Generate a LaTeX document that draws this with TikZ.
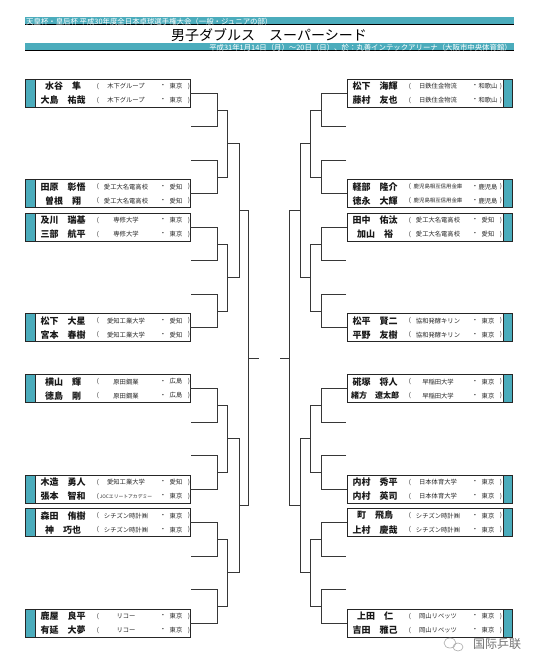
\documentclass[tikz,border=0pt]{standalone}
\usepackage{fontspec}
\setmainfont{Noto Sans CJK JP}
\newfontfamily\scfont{Noto Sans CJK SC}
\usetikzlibrary{calc}
\definecolor{tealbar}{RGB}{75,172,188}
\definecolor{lined}{RGB}{55,55,55}
\newcommand\jocfont{\fontsize{4.8}{5}\selectfont}
\newcommand\smallaff{\fontsize{5.4}{6}\selectfont}
\newcommand\longname{\fontsize{8}{9}\selectfont}
\tikzset{
  teambox/.style={draw=black!85, line width=0.9pt, minimum width=165pt, minimum height=28pt, inner sep=0pt},
  boxline/.style={draw=black!85, line width=0.7pt},
  namet/.style={font=\fontsize{9}{10}\selectfont\bfseries, inner sep=0pt, text=black!90},
  afft/.style={font=\fontsize{6.3}{7}\selectfont, inner sep=0pt, text=black!85},
  bline/.style={draw=lined, line width=0.8pt},
  hdtext/.style={text=white, font=\fontsize{7.4}{8}\selectfont, inner sep=0pt},
}
\newcommand\teamrow[6]{%
  \node[namet] (#1n) at ({#2+28},{#3}) {#4};
  \node[afft] (#1o) at ({#2+63},{#3}) {(};
  \node[afft] (#1a) at ({#2+91},{#3}) {#5};
  \node[afft] (#1d) at ({#2+128},{#3}) {・};
  \node[afft] (#1p) at ({#2+141},{#3}) {#6};
  \node[afft] (#1c) at ({#2+154},{#3}) {)};
}
\newcommand\teamL[8]{%
  \fill[tealbar] (25,{#2-14}) rectangle (35,{#2+14});
  \node[teambox] (#1) at (107.5,#2) {};
  \draw[boxline] (35,{#2-14}) -- (35,{#2+14});
  \teamrow{#1a}{35}{#2-7}{#3}{#4}{#5}
  \teamrow{#1b}{35}{#2+7}{#6}{#7}{#8}
}
\newcommand\teamR[8]{%
  \fill[tealbar] (503,{#2-14}) rectangle (513,{#2+14});
  \node[teambox] (#1) at (430,#2) {};
  \draw[boxline] (503,{#2-14}) -- (503,{#2+14});
  \teamrow{#1a}{347}{#2-7}{#3}{#4}{#5}
  \teamrow{#1b}{347}{#2+7}{#6}{#7}{#8}
}
\begin{document}
\begin{tikzpicture}[x=1pt,y=-1pt]
\useasboundingbox (0,0) rectangle (540,668);
\fill[white] (0,0) rectangle (540,668);

% header
\fill[tealbar] (25,17.5) rectangle (514,24.5);
\draw[black, line width=1pt] (25,24.8) -- (514,24.8);
\node[hdtext, anchor=west] (hd1) at (26,21.2) {天皇杯・皇后杯 平成30年度全日本卓球選手権大会（一般・ジュニアの部）};
\node[font=\fontsize{14}{16}\selectfont, inner sep=0pt] (title) at (269,35) {男子ダブルス　スーパーシード};
\fill[tealbar] (25,43.5) rectangle (514,50.5);
\draw[black, line width=1pt] (25,50.8) -- (514,50.8);
\node[hdtext, anchor=east] (hd2) at (512,47.2) {平成31年1月14日（月）～20日（日）、於：丸善インテックアリーナ（大阪市中央体育館）};

% left teams
\teamL{L1}{93.3}{水谷　隼}{木下グループ}{東京}{大島　祐哉}{木下グループ}{東京}
\teamL{L2}{193.8}{田原　彰悟}{愛工大名電高校}{愛知}{曽根　翔}{愛工大名電高校}{愛知}
\teamL{L3}{227.3}{及川　瑞基}{専修大学}{東京}{三部　航平}{専修大学}{東京}
\teamL{L4}{327.8}{松下　大星}{愛知工業大学}{愛知}{宮本　春樹}{愛知工業大学}{愛知}
\teamL{L5}{388.6}{横山　輝}{原田鋼業}{広島}{徳島　剛}{原田鋼業}{広島}
\teamL{L6}{489.1}{木造　勇人}{愛知工業大学}{愛知}{張本　智和}{\jocfont JOCエリートアカデミー}{東京}
\teamL{L7}{522.6}{森田　侑樹}{シチズン時計㈱}{東京}{神　巧也}{シチズン時計㈱}{東京}
\teamL{L8}{623.1}{鹿屋　良平}{リコー}{東京}{有延　大夢}{リコー}{東京}

% right teams
\teamR{R1}{93.3}{松下　海輝}{日鉄住金物流}{和歌山}{藤村　友也}{日鉄住金物流}{和歌山}
\teamR{R2}{193.8}{軽部　隆介}{\smallaff 鹿児島相互信用金庫}{鹿児島}{徳永　大輝}{\smallaff 鹿児島相互信用金庫}{鹿児島}
\teamR{R3}{227.3}{田中　佑汰}{愛工大名電高校}{愛知}{加山　裕}{愛工大名電高校}{愛知}
\teamR{R4}{327.8}{松平　賢二}{協和発酵キリン}{東京}{平野　友樹}{協和発酵キリン}{東京}
\teamR{R5}{388.6}{硴塚　将人}{早稲田大学}{東京}{\longname 緒方　遼太郎}{早稲田大学}{東京}
\teamR{R6}{489.1}{内村　秀平}{日本体育大学}{東京}{内村　英司}{日本体育大学}{東京}
\teamR{R7}{522.6}{町　飛鳥}{シチズン時計㈱}{東京}{上村　慶哉}{シチズン時計㈱}{東京}
\teamR{R8}{623.1}{上田　仁}{岡山リベッツ}{東京}{吉田　雅己}{岡山リベッツ}{東京}

% slot coordinates
\coordinate (Ls1) at (L1.east);  \coordinate (Ls4) at (L2.east);
\coordinate (Ls5) at (L3.east);  \coordinate (Ls8) at (L4.east);
\coordinate (Ls9) at (L5.east);  \coordinate (Ls12) at (L6.east);
\coordinate (Ls13) at (L7.east); \coordinate (Ls16) at (L8.east);
\coordinate (Rs1) at (R1.west);  \coordinate (Rs4) at (R2.west);
\coordinate (Rs5) at (R3.west);  \coordinate (Rs8) at (R4.west);
\coordinate (Rs9) at (R5.west);  \coordinate (Rs12) at (R6.west);
\coordinate (Rs13) at (R7.west); \coordinate (Rs16) at (R8.west);
\coordinate (Ls2) at (191,126.8);  \coordinate (Ls3) at (191,160.3);
\coordinate (Ls6) at (191,260.8);  \coordinate (Ls7) at (191,294.3);
\coordinate (Ls10) at (191,422.1); \coordinate (Ls11) at (191,455.6);
\coordinate (Ls14) at (191,556.1); \coordinate (Ls15) at (191,589.6);
\coordinate (Rs2) at (346,126.8);  \coordinate (Rs3) at (346,160.3);
\coordinate (Rs6) at (346,260.8);  \coordinate (Rs7) at (346,294.3);
\coordinate (Rs10) at (346,422.1); \coordinate (Rs11) at (346,455.6);
\coordinate (Rs14) at (346,556.1); \coordinate (Rs15) at (346,589.6);

\coordinate (LX1) at (217,0); \coordinate (LX2) at (227.5,0);
\coordinate (LX3) at (239,0); \coordinate (LX4) at (248.5,0);
\coordinate (RX1) at (321,0); \coordinate (RX2) at (310.5,0);
\coordinate (RX3) at (300,0); \coordinate (RX4) at (289.5,0);

% round 1
\foreach \i in {1,...,8} {
  \pgfmathtruncatemacro\ia{2*\i-1}
  \pgfmathtruncatemacro\ib{2*\i}
  \draw[bline] (Ls\ia) -- (Ls\ia -| LX1) -- (Ls\ib -| LX1) -- (Ls\ib);
  \coordinate (Lm\i) at ($(Ls\ia -| LX1)!0.5!(Ls\ib -| LX1)$);
  \draw[bline] (Rs\ia) -- (Rs\ia -| RX1) -- (Rs\ib -| RX1) -- (Rs\ib);
  \coordinate (Rm\i) at ($(Rs\ia -| RX1)!0.5!(Rs\ib -| RX1)$);
}
% round 2
\foreach \i in {1,...,4} {
  \pgfmathtruncatemacro\ia{2*\i-1}
  \pgfmathtruncatemacro\ib{2*\i}
  \draw[bline] (Lm\ia) -- (Lm\ia -| LX2) -- (Lm\ib -| LX2) -- (Lm\ib);
  \coordinate (Ln\i) at ($(Lm\ia -| LX2)!0.5!(Lm\ib -| LX2)$);
  \draw[bline] (Rm\ia) -- (Rm\ia -| RX2) -- (Rm\ib -| RX2) -- (Rm\ib);
  \coordinate (Rn\i) at ($(Rm\ia -| RX2)!0.5!(Rm\ib -| RX2)$);
}
% round 3
\foreach \i in {1,2} {
  \pgfmathtruncatemacro\ia{2*\i-1}
  \pgfmathtruncatemacro\ib{2*\i}
  \draw[bline] (Ln\ia) -- (Ln\ia -| LX3) -- (Ln\ib -| LX3) -- (Ln\ib);
  \coordinate (Lq\i) at ($(Ln\ia -| LX3)!0.5!(Ln\ib -| LX3)$);
  \draw[bline] (Rn\ia) -- (Rn\ia -| RX3) -- (Rn\ib -| RX3) -- (Rn\ib);
  \coordinate (Rq\i) at ($(Rn\ia -| RX3)!0.5!(Rn\ib -| RX3)$);
}
% round 4
\draw[bline] (Lq1) -- (Lq1 -| LX4) -- (Lq2 -| LX4) -- (Lq2);
\coordinate (Lf) at ($(Lq1 -| LX4)!0.5!(Lq2 -| LX4)$);
\coordinate (LC) at ($(Lf)+(10,0)$);
\draw[bline] (Lf) -- (LC);
\draw[bline] (Rq1) -- (Rq1 -| RX4) -- (Rq2 -| RX4) -- (Rq2);
\coordinate (Rf) at ($(Rq1 -| RX4)!0.5!(Rq2 -| RX4)$);
\coordinate (RC) at ($(Rf)+(-10,0)$);
\draw[bline] (Rf) -- (RC);

% watermark
\draw[black!35, line width=0.6pt] (450,643) ellipse (6 and 5);
\draw[black!35, line width=0.6pt] (458,647) ellipse (5 and 4);
\node[font=\scfont\fontsize{12}{14}\selectfont, text=black!55, inner sep=0pt] (wm) at (497,644) {国际乒联};
\end{tikzpicture}
\end{document}
